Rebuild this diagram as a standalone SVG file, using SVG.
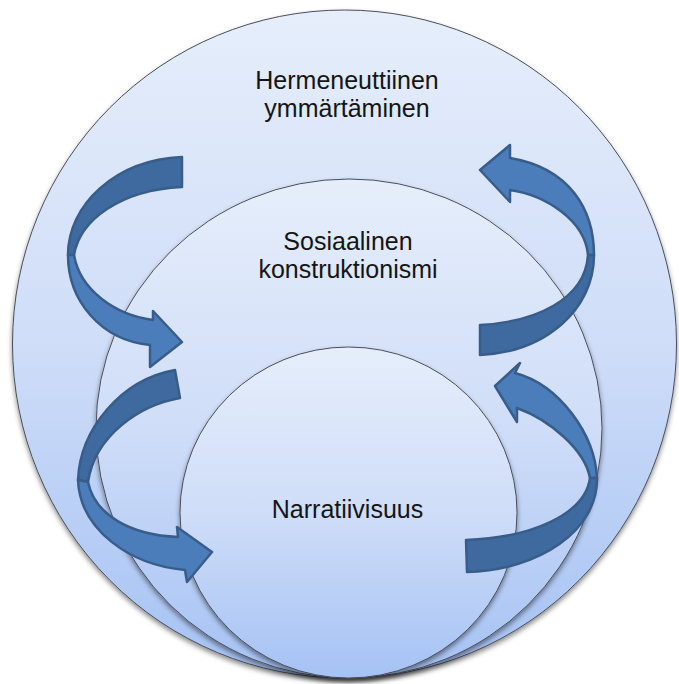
<svg xmlns="http://www.w3.org/2000/svg" width="679" height="684" viewBox="0 0 679 684">
<defs>
<linearGradient id="g" x1="0" y1="0" x2="0" y2="1">
<stop offset="0" stop-color="#e6eefb"/>
<stop offset="0.5" stop-color="#cfddf8"/>
<stop offset="1" stop-color="#a5c2f4"/>
</linearGradient>
<filter id="sh" x="-10%" y="-10%" width="120%" height="125%">
<feDropShadow dx="0" dy="3" stdDeviation="2.5" flood-color="#000" flood-opacity="0.45"/>
</filter>
</defs>
<style>
.c{fill:url(#g);stroke:#4a4f5a;stroke-width:1;filter:url(#sh)}
.t{font-family:"Liberation Sans",Arial,sans-serif;font-size:25px;fill:#151515;text-anchor:middle}
.fr{fill:#4c7dbb;stroke:#385d8a;stroke-width:2.5;stroke-linejoin:round}
.bk{fill:#3e6aa0;stroke:#385d8a;stroke-width:2.5;stroke-linejoin:round}
</style>
<g id="node-outer">
<ellipse class="c" cx="344.5" cy="344" rx="332" ry="334"/>
<text class="t" x="347" y="89">Hermeneuttiinen</text>
<text class="t" x="347" y="117">ymmärtäminen</text>
</g>
<g id="node-middle">
<ellipse class="c" cx="349" cy="428.5" rx="253" ry="249.5"/>
<text class="t" x="348" y="250">Sosiaalinen</text>
<text class="t" x="348" y="278">konstruktionismi</text>
</g>
<g id="node-inner">
<ellipse class="c" cx="348.5" cy="512.5" rx="168.5" ry="165.5"/>
<text class="t" x="347.5" y="518">Narratiivisuus</text>
</g>
<g id="connectors">
<g id="arrow-top-left">
<path class="bk" d="M182,157 C115,160 68,205 68,255 L74,255 C80,220 120,190 182,187 Z"/>
<path class="fr" d="M68,255 C68,300 100,340 150,345 L150,367 L182,342 L153,311 L153,320 C115,315 80,290 74,255 Z"/>
</g>
<g id="arrow-top-right">
<path class="fr" d="M510,145 L480,170 L510,202 L510,190 C545,195 585,220 588,255 L594,255 C594,210 570,168 510,158 Z"/>
<path class="bk" d="M594,255 C594,310 545,352 480,355 L480,325 C535,322 585,300 588,255 Z"/>
</g>
<g id="arrow-bottom-left">
<path class="bk" d="M175,370 L180,398 C140,405 95,435 88,482 L78,480 C80,430 120,380 175,370 Z"/>
<path class="fr" d="M78,480 C80,530 130,565 185,570 L187,582 L212,552 L177,527 L178,537 C130,535 95,515 88,482 Z"/>
</g>
<g id="arrow-bottom-right">
<path class="fr" d="M520,363 L495,386 L517,422 L517,408 C550,420 585,450 590,478 L597,478 C595,435 560,385 515,373 Z"/>
<path class="bk" d="M597,478 C598,530 540,570 467,572 L466,540 C530,538 585,515 590,478 Z"/>
</g>
</g>
</svg>
